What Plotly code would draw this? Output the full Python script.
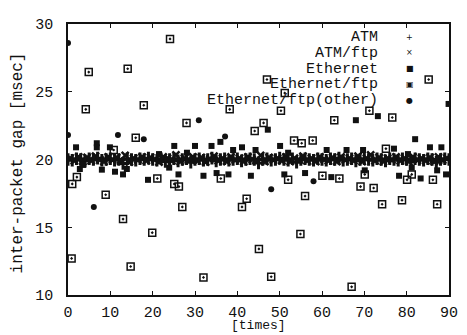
import plotly.graph_objects as go

# ---- data ----
atm_x = list(range(0, 91))
atm_y = [20.0, 19.95, 20.05, 20.0, 19.9, 20.05, 20.0, 20.1, 19.95, 20.0,
         20.05, 19.95, 20.0, 19.7, 20.05, 20.0, 19.95, 20.05, 20.0, 20.1,
         20.0, 19.95, 20.05, 19.85, 20.0, 20.05, 19.9, 20.0, 20.05, 19.8,
         20.0, 20.05, 19.95, 20.0, 20.1, 19.9, 20.0, 20.05, 19.95, 20.0,
         20.05, 19.9, 20.0, 20.05, 20.0, 19.75, 20.0, 20.05, 19.95, 20.0,
         20.1, 20.0, 19.95, 20.05, 19.8, 20.0, 20.05, 20.0, 19.95, 20.05,
         20.0, 19.95, 20.05, 20.0, 20.1, 19.95, 20.0, 20.05, 19.9, 20.0,
         20.05, 20.0, 19.95, 20.05, 20.0, 19.9, 20.05, 20.0, 19.95, 20.05,
         20.0, 19.85, 20.05, 20.0, 19.95, 20.05, 20.0, 19.8, 20.0, 20.05, 20.0]

atmftp_x = [i + 0.5 for i in range(0, 90)]
atmftp_y = [20.1, 19.9, 20.2, 19.85, 20.15, 19.9, 20.25, 20.0, 19.85, 20.2,
            19.95, 20.15, 19.9, 20.3, 19.8, 20.1, 19.95, 20.2, 19.9, 20.15,
            20.0, 19.8, 20.2, 20.1, 19.9, 20.35, 19.85, 20.1, 19.95, 20.2,
            19.9, 20.15, 19.8, 20.05, 20.25, 19.9, 20.1, 19.85, 20.2, 19.95,
            20.1, 19.85, 20.2, 20.0, 19.9, 20.3, 19.85, 20.15, 19.95, 20.1,
            19.9, 20.2, 19.85, 20.1, 19.95, 20.25, 19.9, 20.1, 19.85, 20.2,
            20.0, 19.9, 20.15, 19.85, 20.2, 19.95, 20.1, 19.9, 20.25, 19.85,
            20.1, 20.35, 19.9, 20.15, 19.85, 20.1, 19.95, 20.2, 19.9, 20.1,
            19.85, 20.2, 19.95, 20.1, 19.9, 20.15, 19.85, 20.2, 19.95, 20.1]

eth_x = [1.9, 2.8, 3.6, 6.8, 6.8, 8.0, 9.9, 11.1, 13.0, 13.9, 18.9, 21.5, 23.9,
         25.1, 26.1, 28.1, 30.0, 32.0, 33.9, 35.1, 36.0, 37.9, 39.0, 41.1, 43.2,
         44.3, 47.2, 50.1, 51.1, 52.0, 56.0, 61.1, 62.2, 65.8, 68.0, 69.7, 70.1,
         73.2, 77.0, 78.2, 80.3, 81.2, 82.0, 83.3, 85.5, 87.2, 88.2, 89.3, 89.9]
eth_y = [20.9, 19.3, 19.6, 21.2, 20.9, 19.25, 20.9, 19.1, 18.9, 19.3, 18.5, 20.4, 19.4,
         21.0, 18.9, 20.5, 21.0, 18.8, 21.0, 19.0, 21.3, 18.9, 20.7, 20.9, 18.8,
         20.7, 22.2, 21.0, 18.9, 20.5, 19.0, 20.7, 18.7, 20.7, 22.9, 20.7, 19.2,
         23.2, 20.8, 18.8, 20.4, 19.4, 21.5, 18.6, 20.9, 19.2, 20.9, 18.9, 24.1]

ethftp_x = [0.85, 1.0, 2.1, 4.2, 4.9, 8.9, 10.8, 13.0, 14.1, 14.8, 16.0, 17.9, 19.9,
            21.1, 24.1, 25.1, 26.2, 27.0, 28.0, 32.0, 36.1, 38.2, 41.1, 42.2, 44.1,
            45.1, 46.2, 47.0, 48.0, 50.3, 51.2, 52.0, 53.4, 54.9, 55.2, 56.0, 57.8,
            60.1, 62.9, 64.1, 67.0, 69.1, 70.1, 71.2, 72.2, 74.2, 75.1, 76.6, 78.9,
            80.1, 81.2, 85.2, 86.2, 87.2]
ethftp_y = [12.7, 18.2, 18.7, 23.7, 26.45, 17.4, 20.7, 15.6, 26.7, 12.1, 21.6, 24.0, 14.6,
            18.6, 28.9, 18.2, 18.0, 16.5, 22.7, 11.3, 18.6, 23.7, 16.5, 17.1, 22.1,
            13.4, 22.7, 25.9, 11.35, 23.6, 24.9, 18.5, 21.4, 14.5, 21.2, 17.3, 21.4,
            18.8, 22.9, 18.6, 10.6, 18.0, 18.9, 23.6, 17.9, 16.7, 20.8, 23.1, 17.0,
            18.5, 18.9, 25.9, 18.5, 16.7]

other_x = [0.0, 0.0, 6.1, 11.8, 17.9, 30.9, 37.1, 48.0, 58.0]
other_y = [28.6, 21.8, 16.5, 21.8, 21.5, 22.9, 21.7, 17.8, 18.4]

legend_names = ["ATM", "ATM/ftp", "Ethernet", "Ethernet/ftp", "Ethernet/ftp(other)"]
legend_syms = ["+", "×", "■", "▣", "●"]

x_ticks = [0, 10, 20, 30, 40, 50, 60, 70, 80, 90]
y_ticks = [10, 15, 20, 25, 30]

INK = "#111111"
MONO = "Liberation Mono, Courier New, monospace"

fig = go.Figure()
fig.add_trace(go.Scatter(x=atm_x, y=atm_y, mode="markers", name="ATM",
                         marker=dict(symbol="cross-thin", size=9, color=INK,
                                     line=dict(width=3, color=INK))))
fig.add_trace(go.Scatter(x=atmftp_x, y=atmftp_y, mode="markers", name="ATM/ftp",
                         marker=dict(symbol="x-thin", size=7, color=INK,
                                     line=dict(width=2.5, color=INK))))
fig.add_trace(go.Scatter(x=eth_x, y=eth_y, mode="markers", name="Ethernet",
                         marker=dict(symbol="square", size=6, color=INK)))
fig.add_trace(go.Scatter(x=ethftp_x, y=ethftp_y, mode="markers", name="Ethernet/ftp",
                         marker=dict(symbol="square-open-dot", size=7, color=INK,
                                     line=dict(width=1.5, color=INK))))
fig.add_trace(go.Scatter(x=other_x, y=other_y, mode="markers", name="Ethernet/ftp(other)",
                         marker=dict(symbol="circle", size=6, color=INK)))

# legend drawn as text, symbol on the right
ys = [0.951, 0.893, 0.835, 0.777, 0.719]
for name, sym, yy in zip(legend_names, legend_syms, ys):
    fig.add_annotation(xref="paper", yref="paper", x=0.815, y=yy, text=name,
                       showarrow=False, xanchor="right", yanchor="middle",
                       borderpad=0, height=14,
                       font=dict(family=MONO, size=15, color=INK))
    fig.add_annotation(xref="paper", yref="paper", x=0.897, y=yy, text=sym,
                       showarrow=False, xanchor="center", yanchor="middle",
                       borderpad=0,
                       font=dict(family="DejaVu Sans", size=8, color=INK))

# axis titles as text annotations
fig.add_annotation(xref="paper", yref="paper", x=0.5, y=-0.112, text="[times]",
                   showarrow=False, xanchor="center", yanchor="middle",
                   borderpad=0, height=13,
                   font=dict(family=MONO, size=13, color=INK))
fig.add_annotation(xref="paper", yref="paper", x=-0.131, y=0.486,
                   text="inter-packet gap [msec]", textangle=-90,
                   showarrow=False, xanchor="center", yanchor="middle",
                   font=dict(family=MONO, size=16, color=INK))

axis_common = dict(showline=True, linecolor=INK, linewidth=1.5, mirror="ticks",
                   ticks="inside", ticklen=4, tickwidth=1.2, tickcolor=INK,
                   showgrid=False, zeroline=False,
                   tickfont=dict(family=MONO, size=15, color=INK))

fig.update_xaxes(range=[0, 90], tickvals=x_ticks, ticktext=[str(v) for v in x_ticks],
                 ticklabelstandoff=2, **axis_common)
fig.update_yaxes(range=[10, 30], tickvals=y_ticks, ticktext=[str(v) for v in y_ticks],
                 ticklabelstandoff=10, **axis_common)

# the page body adds an 8px offset, so the figure is sized/margined to compensate
fig.update_layout(width=459, height=327, showlegend=False,
                  margin=dict(l=60, r=9, t=12, b=40),
                  paper_bgcolor="white", plot_bgcolor="white")

fig.write_html("out.html")
